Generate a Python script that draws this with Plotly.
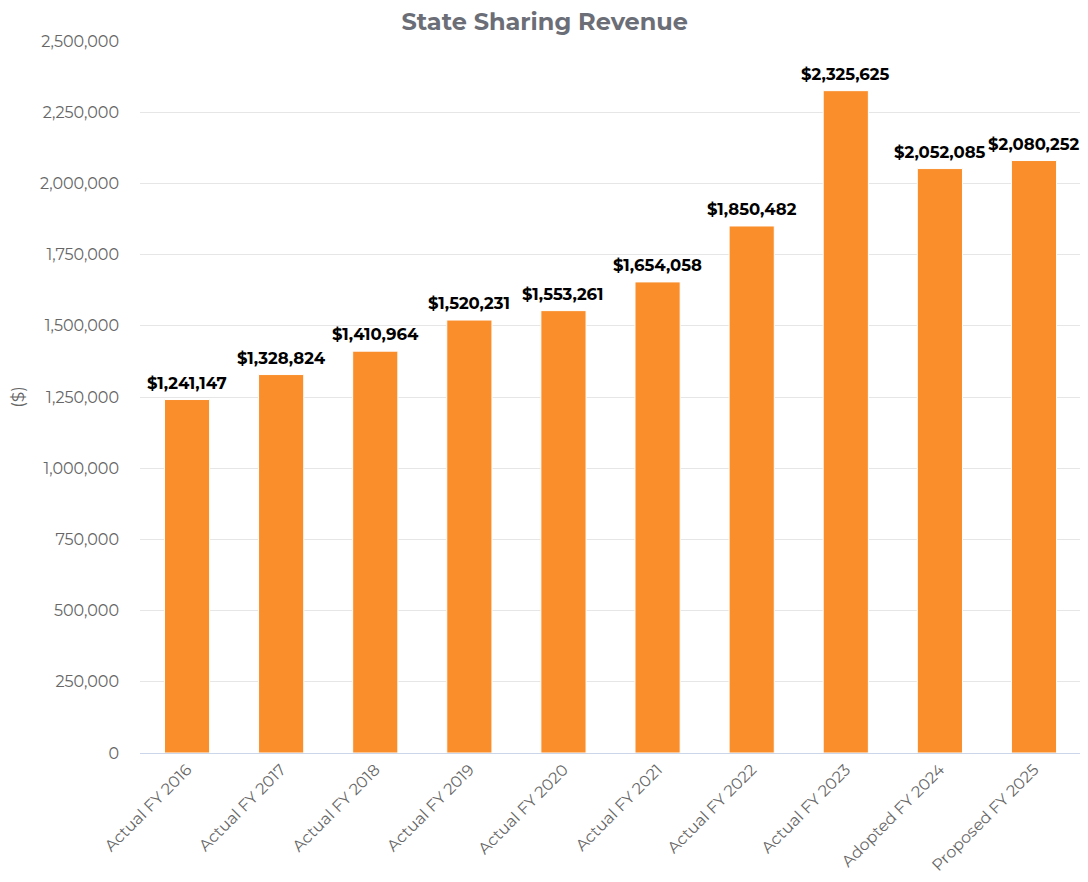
import plotly.graph_objects as go

# State sharing revenue by fiscal year
categories = ["Actual FY 2016", "Actual FY 2017", "Actual FY 2018", "Actual FY 2019",
              "Actual FY 2020", "Actual FY 2021", "Actual FY 2022", "Actual FY 2023",
              "Adopted FY 2024", "Proposed FY 2025"]
revenue = [1241147, 1328824, 1410964, 1520231, 1553261, 1654058, 1850482, 2325625,
           2052085, 2080252]
tick_vals = [0, 250000, 500000, 750000, 1000000, 1250000, 1500000, 1750000,
             2000000, 2250000, 2500000]

FONT = "Montserrat, 'Open Sans', Lato, sans-serif"

fig = go.Figure()
fig.add_trace(go.Bar(
    x=categories,
    y=revenue,
    marker=dict(color="#f98e2b", line=dict(color="white", width=1)),
    hoverinfo="x+y",
))

# value labels above the bars
for cat, val in zip(categories, revenue):
    fig.add_annotation(
        x=cat, y=val, text=f"<b>${val:,}</b>",
        showarrow=False, yanchor="bottom", yshift=5,
        font=dict(family=FONT, size=16.5, color="#000000"),
    )

# page body has an 8px margin, so the figure is sized to 1080x874
fig.update_layout(
    title=dict(text="<b>State Sharing Revenue</b>", x=0.497, xanchor="center",
               y=0.985, yanchor="middle",
               font=dict(family=FONT, size=24, color="#6b6e76")),
    width=1080, height=874,
    margin=dict(l=132, r=6, t=33, b=129, autoexpand=False),
    plot_bgcolor="white",
    paper_bgcolor="white",
    bargap=0.52,
    showlegend=False,
    font=dict(family=FONT),
    xaxis=dict(
        tickangle=-45,
        tickfont=dict(size=16, color="#666666"),
        showline=True, linecolor="#ccd6eb", linewidth=1,
        ticks="", showgrid=False, automargin=False,
    ),
    yaxis=dict(
        range=[0, 2500000],
        tickvals=tick_vals,
        tickformat=",d",
        tickfont=dict(size=16, color="#666666"),
        gridcolor="#e6e6e6",
        zeroline=False,
        automargin=False,
        ticklabelstandoff=20,
        title=dict(text="($)", font=dict(size=17, color="#666666"), standoff=40),
    ),
)

fig.write_html("out.html")
